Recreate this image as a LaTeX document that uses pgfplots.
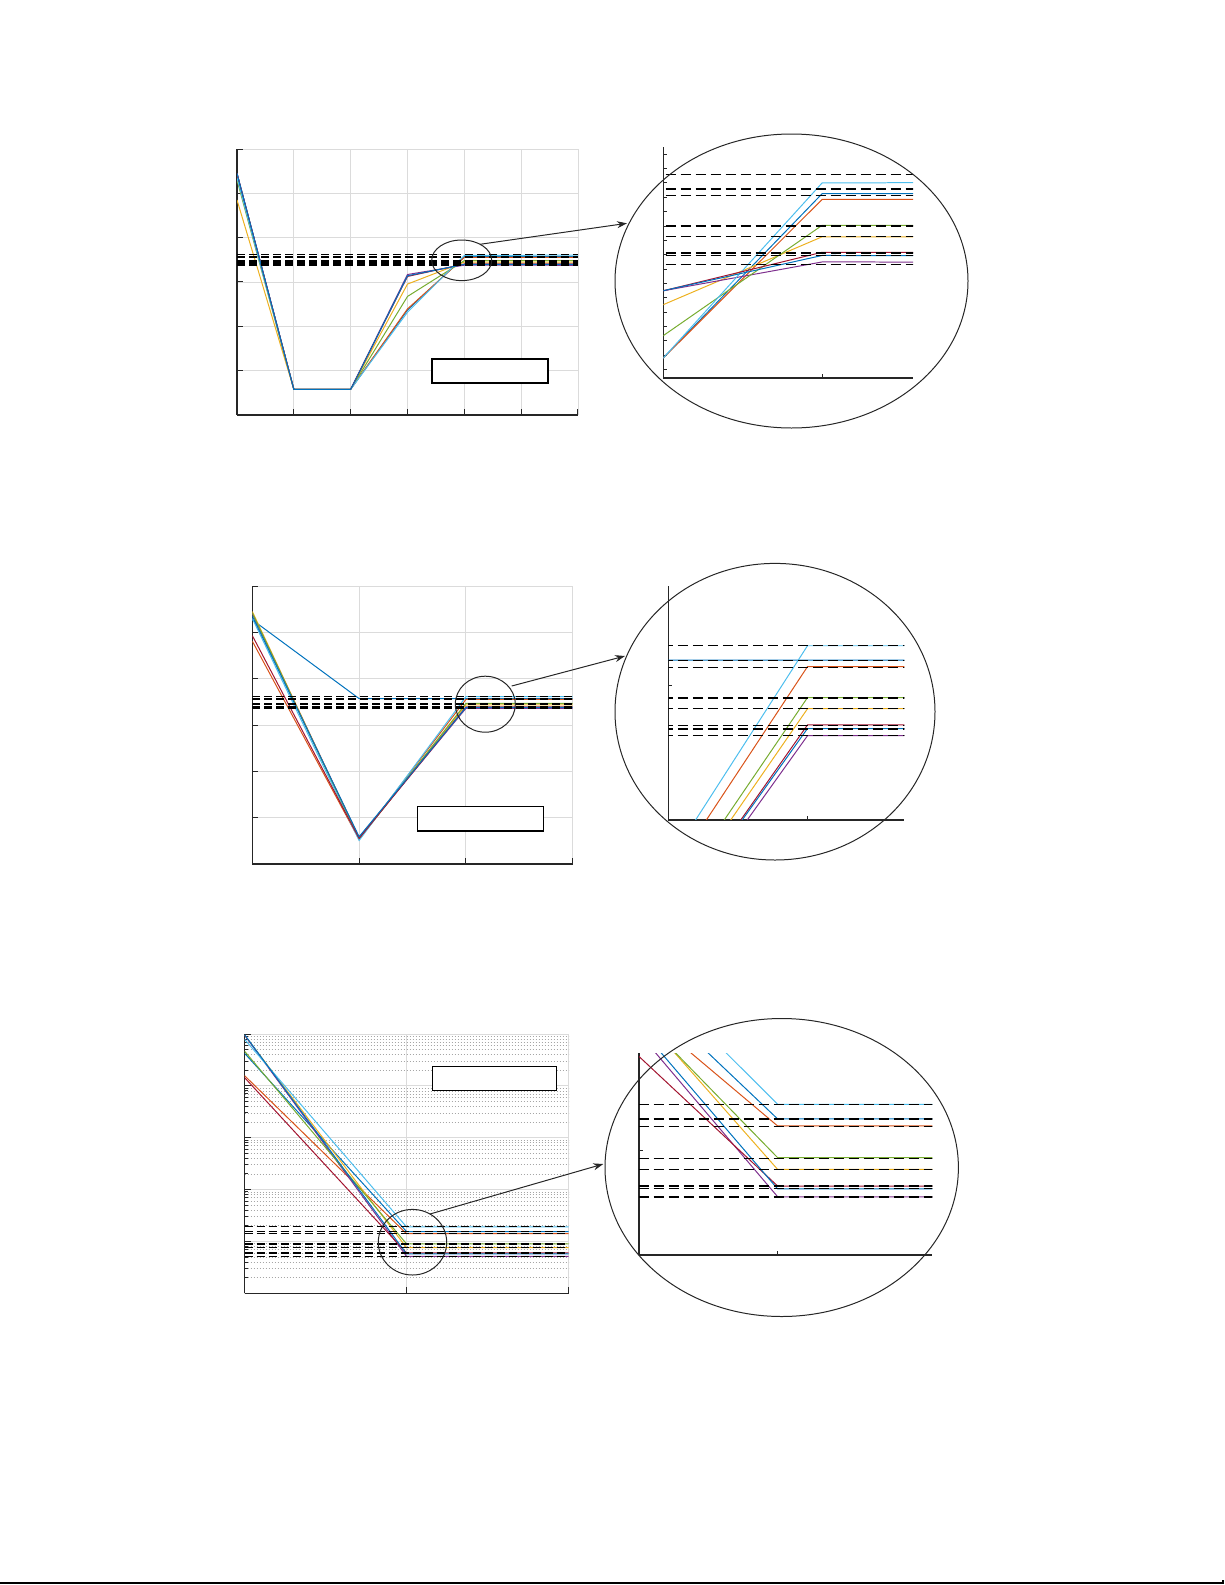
\documentclass[border=0pt]{standalone}
\usepackage{pgfplots}
\pgfplotsset{compat=1.18}
\usepackage{pgfplotstable}
\usetikzlibrary{arrows.meta}

% MATLAB default line colours
\definecolor{mblue}{RGB}{0,114,189}
\definecolor{morange}{RGB}{217,83,25}
\definecolor{myellow}{RGB}{237,177,32}
\definecolor{mpurple}{RGB}{126,47,142}
\definecolor{mgreen}{RGB}{119,172,48}
\definecolor{mcyan}{RGB}{77,190,238}
\definecolor{mred}{RGB}{162,20,47}
\definecolor{axgray}{gray}{0.15}
\definecolor{gridgray}{gray}{0.86}

% row 1: linear axis, x = 0..6
\pgfplotstableread{
x s1 s2 s3 s4 s5 s6 s7 s8
0 5.45 5.40 4.85 5.45 5.30 5.35 5.45 5.45
1 0.58 0.58 0.58 0.58 0.58 0.58 0.58 0.58
2 0.58 0.58 0.58 0.58 0.58 0.58 0.58 0.58
3 2.367 2.393 2.953 3.169 2.674 2.318 3.125 3.140
4 3.570 3.554 3.450 3.380 3.482 3.600 3.407 3.398
5 3.571 3.555 3.450 3.379 3.482 3.603 3.407 3.397
6 3.572 3.556 3.450 3.377 3.481 3.605 3.407 3.396
}\rowA

% row 2: linear axis, x = 0..3
\pgfplotstableread{
x s1 s2 s3 s4 s5 s6 s7 s8
0 5.27 4.81 5.45 5.40 5.42 5.30 4.93 5.35
1 3.570 0.530 0.547 0.574 0.535 0.507 0.551 0.589
2 3.570 3.552 3.435 3.360 3.466 3.610 3.390 3.380
3 3.570 3.552 3.435 3.360 3.466 3.610 3.390 3.380
}\rowB

% row 3: log axis, x = 0..2
\pgfplotstableread{
x s1 s2 s3 s4 s5 s6 s7 s8
0 0.427 0.158 0.955 0.955 0.468 0.794 0.145 0.977
1 1.556e-4 1.409e-4 7.621e-5 5.176e-5 8.995e-5 1.914e-4 6.026e-5 5.781e-5
2 1.556e-4 1.409e-4 7.621e-5 5.176e-5 8.995e-5 1.914e-4 6.026e-5 5.781e-5
}\rowC

\pgfplotsset{
  bare/.style={
    scale only axis,
    axis lines=left,
    axis line style={-, draw=axgray, line width=0.6pt},
    every outer x axis line/.append style={-},
    every outer y axis line/.append style={-},
    tick align=inside,
    tick style={draw=axgray, line width=0.5pt},
    major tick length=3bp,
    minor tick length=1.6bp,
    xticklabels={}, yticklabels={},
  },
  mainax/.style={
    bare,
    grid=major,
    major grid style={draw=gridgray, line width=0.45pt},
  },
  ser/.style={line width=0.5pt, mark=none},
  tgt/.style={black, line width=0.6pt, dash pattern=on 4bp off 2bp, mark=none},
  tgtin/.style={black, line width=0.6pt, dash pattern=on 5bp off 2.5bp, mark=none},
}

\newcommand{\allseries}[1]{%
  \addplot[ser, mblue]   table[x=x, y=s1] {#1};
  \addplot[ser, morange] table[x=x, y=s2] {#1};
  \addplot[ser, myellow] table[x=x, y=s3] {#1};
  \addplot[ser, mpurple] table[x=x, y=s4] {#1};
  \addplot[ser, mgreen]  table[x=x, y=s5] {#1};
  \addplot[ser, mcyan]   table[x=x, y=s6] {#1};
  \addplot[ser, mred]    table[x=x, y=s7] {#1};
  \addplot[ser, mblue]   table[x=x, y=s8] {#1};
}

\begin{document}
\begin{tikzpicture}
\useasboundingbox (0,0) rectangle (612.5bp,-792.5bp);

% ---------- row 1 ----------
\begin{axis}[mainax, at={(118.5bp,-74.5bp)}, anchor=north west,
  width=170.5bp, height=133bp,
  xmin=0, xmax=6, ymin=0, ymax=6,
  xtick={0,...,6}, ytick={0,...,6}]
  \allseries{\rowA}
  \pgfplotsinvokeforeach{3.623,3.583,3.564,3.480,3.450,3.405,3.398,3.374}{
    \addplot[tgt] coordinates {(0,#1) (6,#1)};
  }
\end{axis}

\begin{axis}[bare, at={(331.65bp,-73.5bp)}, anchor=north west,
  width=124.85bp, height=115.5bp,
  xmin=3.62, xmax=4.2175, ymin=3.057, ymax=3.700,
  xtick={4}, ytick={3.08,3.12,...,3.68}, major tick length=2bp]
  \allseries{\rowA}
  \pgfplotsinvokeforeach{3.623,3.583,3.564,3.480,3.450,3.405,3.398,3.374}{
    \addplot[tgtin] coordinates {(0,#1) (6,#1)};
  }
\end{axis}

% ---------- row 2 ----------
\begin{axis}[mainax, at={(126.15bp,-293bp)}, anchor=north west,
  width=160.2bp, height=139bp,
  xmin=0, xmax=3, ymin=0, ymax=6,
  xtick={0,...,3}, ytick={0,...,6}]
  \allseries{\rowB}
  \pgfplotsinvokeforeach{3.611,3.570,3.550,3.465,3.435,3.389,3.379,3.361}{
    \addplot[tgt] coordinates {(0,#1) (3,#1)};
  }
\end{axis}

\begin{axis}[bare, at={(334.15bp,-293bp)}, anchor=north west,
  width=118bp, height=117bp,
  xmin=1.806, xmax=2.135, ymin=3.126, ymax=3.776,
  xtick={2}, ytick={3.5}, major tick length=2bp]
  \allseries{\rowB}
  \pgfplotsinvokeforeach{3.611,3.570,3.550,3.465,3.435,3.389,3.379,3.361}{
    \addplot[tgtin] coordinates {(0,#1) (3,#1)};
  }
\end{axis}

% ---------- row 3 ----------
\begin{axis}[mainax, at={(122.25bp,-517bp)}, anchor=north west,
  width=162bp, height=129.65bp,
  ymode=log, xmin=0, xmax=2, ymin=1e-5, ymax=1,
  xtick={0,1,2}, ytick={1e-5,1e-4,1e-3,1e-2,1e-1,1},
  minor ytick={2e-5,3e-5,4e-5,5e-5,6e-5,7e-5,8e-5,9e-5,
    2e-4,3e-4,4e-4,5e-4,6e-4,7e-4,8e-4,9e-4,
    2e-3,3e-3,4e-3,5e-3,6e-3,7e-3,8e-3,9e-3,
    2e-2,3e-2,4e-2,5e-2,6e-2,7e-2,8e-2,9e-2,
    2e-1,3e-1,4e-1,5e-1,6e-1,7e-1,8e-1,9e-1},
  yminorgrids,
  minor grid style={draw=black!35, line width=0.4pt, dash pattern=on 0.4bp off 1.1bp}]
  \allseries{\rowC}
  \pgfplotsinvokeforeach{1.914e-4,1.556e-4,1.403e-4,8.913e-5,7.621e-5,6.026e-5,5.808e-5,5.152e-5}{
    \addplot[tgt] coordinates {(0,#1) (2,#1)};
  }
\end{axis}

\begin{axis}[bare, at={(319.5bp,-526.65bp)}, anchor=north west,
  width=146.65bp, height=100.85bp,
  ymode=log, xmin=0.7646, xmax=1.2626, ymin=2.27e-5, ymax=3.94e-4,
  xtick={1}, ytick={1e-4}, minor ytick={}, major tick length=2bp]
  \allseries{\rowC}
  \pgfplotsinvokeforeach{1.914e-4,1.556e-4,1.403e-4,8.913e-5,7.621e-5,6.026e-5,5.808e-5,5.152e-5}{
    \addplot[tgtin] coordinates {(0,#1) (2,#1)};
  }
\end{axis}

% empty legend frames
\draw[fill=white, line width=0.6pt] (216bp,-179.5bp) rectangle (274bp,-191.5bp);
\draw[fill=white, line width=0.6pt] (208.65bp,-403.15bp) rectangle (271.65bp,-415.5bp);
\draw[fill=white, line width=0.6pt] (216.15bp,-533.35bp) rectangle (278.35bp,-545.15bp);

% zoom marks, magnifier ellipses and arrows
\begin{scope}[draw=axgray, line width=0.5pt]
  \draw (230.85bp,-130.15bp) ellipse (15bp and 10.15bp);
  \draw (395.75bp,-140.5bp) ellipse (88.25bp and 73.5bp);
  \draw[-{Stealth[length=5bp,width=3.5bp]}] (240bp,-122.15bp) -- (313.5bp,-111.65bp);

  \draw (242.65bp,-352.1bp) ellipse (15bp and 14bp);
  \draw (387.5bp,-355.85bp) ellipse (80bp and 74.15bp);
  \draw[-{Stealth[length=5bp,width=3.5bp]}] (255.85bp,-343bp) -- (312.5bp,-328bp);

  \draw (206.25bp,-621.1bp) ellipse (17.1bp and 16.4bp);
  \draw (390.85bp,-583.75bp) ellipse (88.35bp and 74.5bp);
  \draw[-{Stealth[length=5bp,width=3.5bp]}] (215bp,-607bp) -- (301.65bp,-582bp);
\end{scope}

% page rule at the bottom
\draw[black, line width=0.8pt] (0,-791.5bp) -- (611.5bp,-791.5bp) -- ++(0,1.5bp);
\end{tikzpicture}
\end{document}
